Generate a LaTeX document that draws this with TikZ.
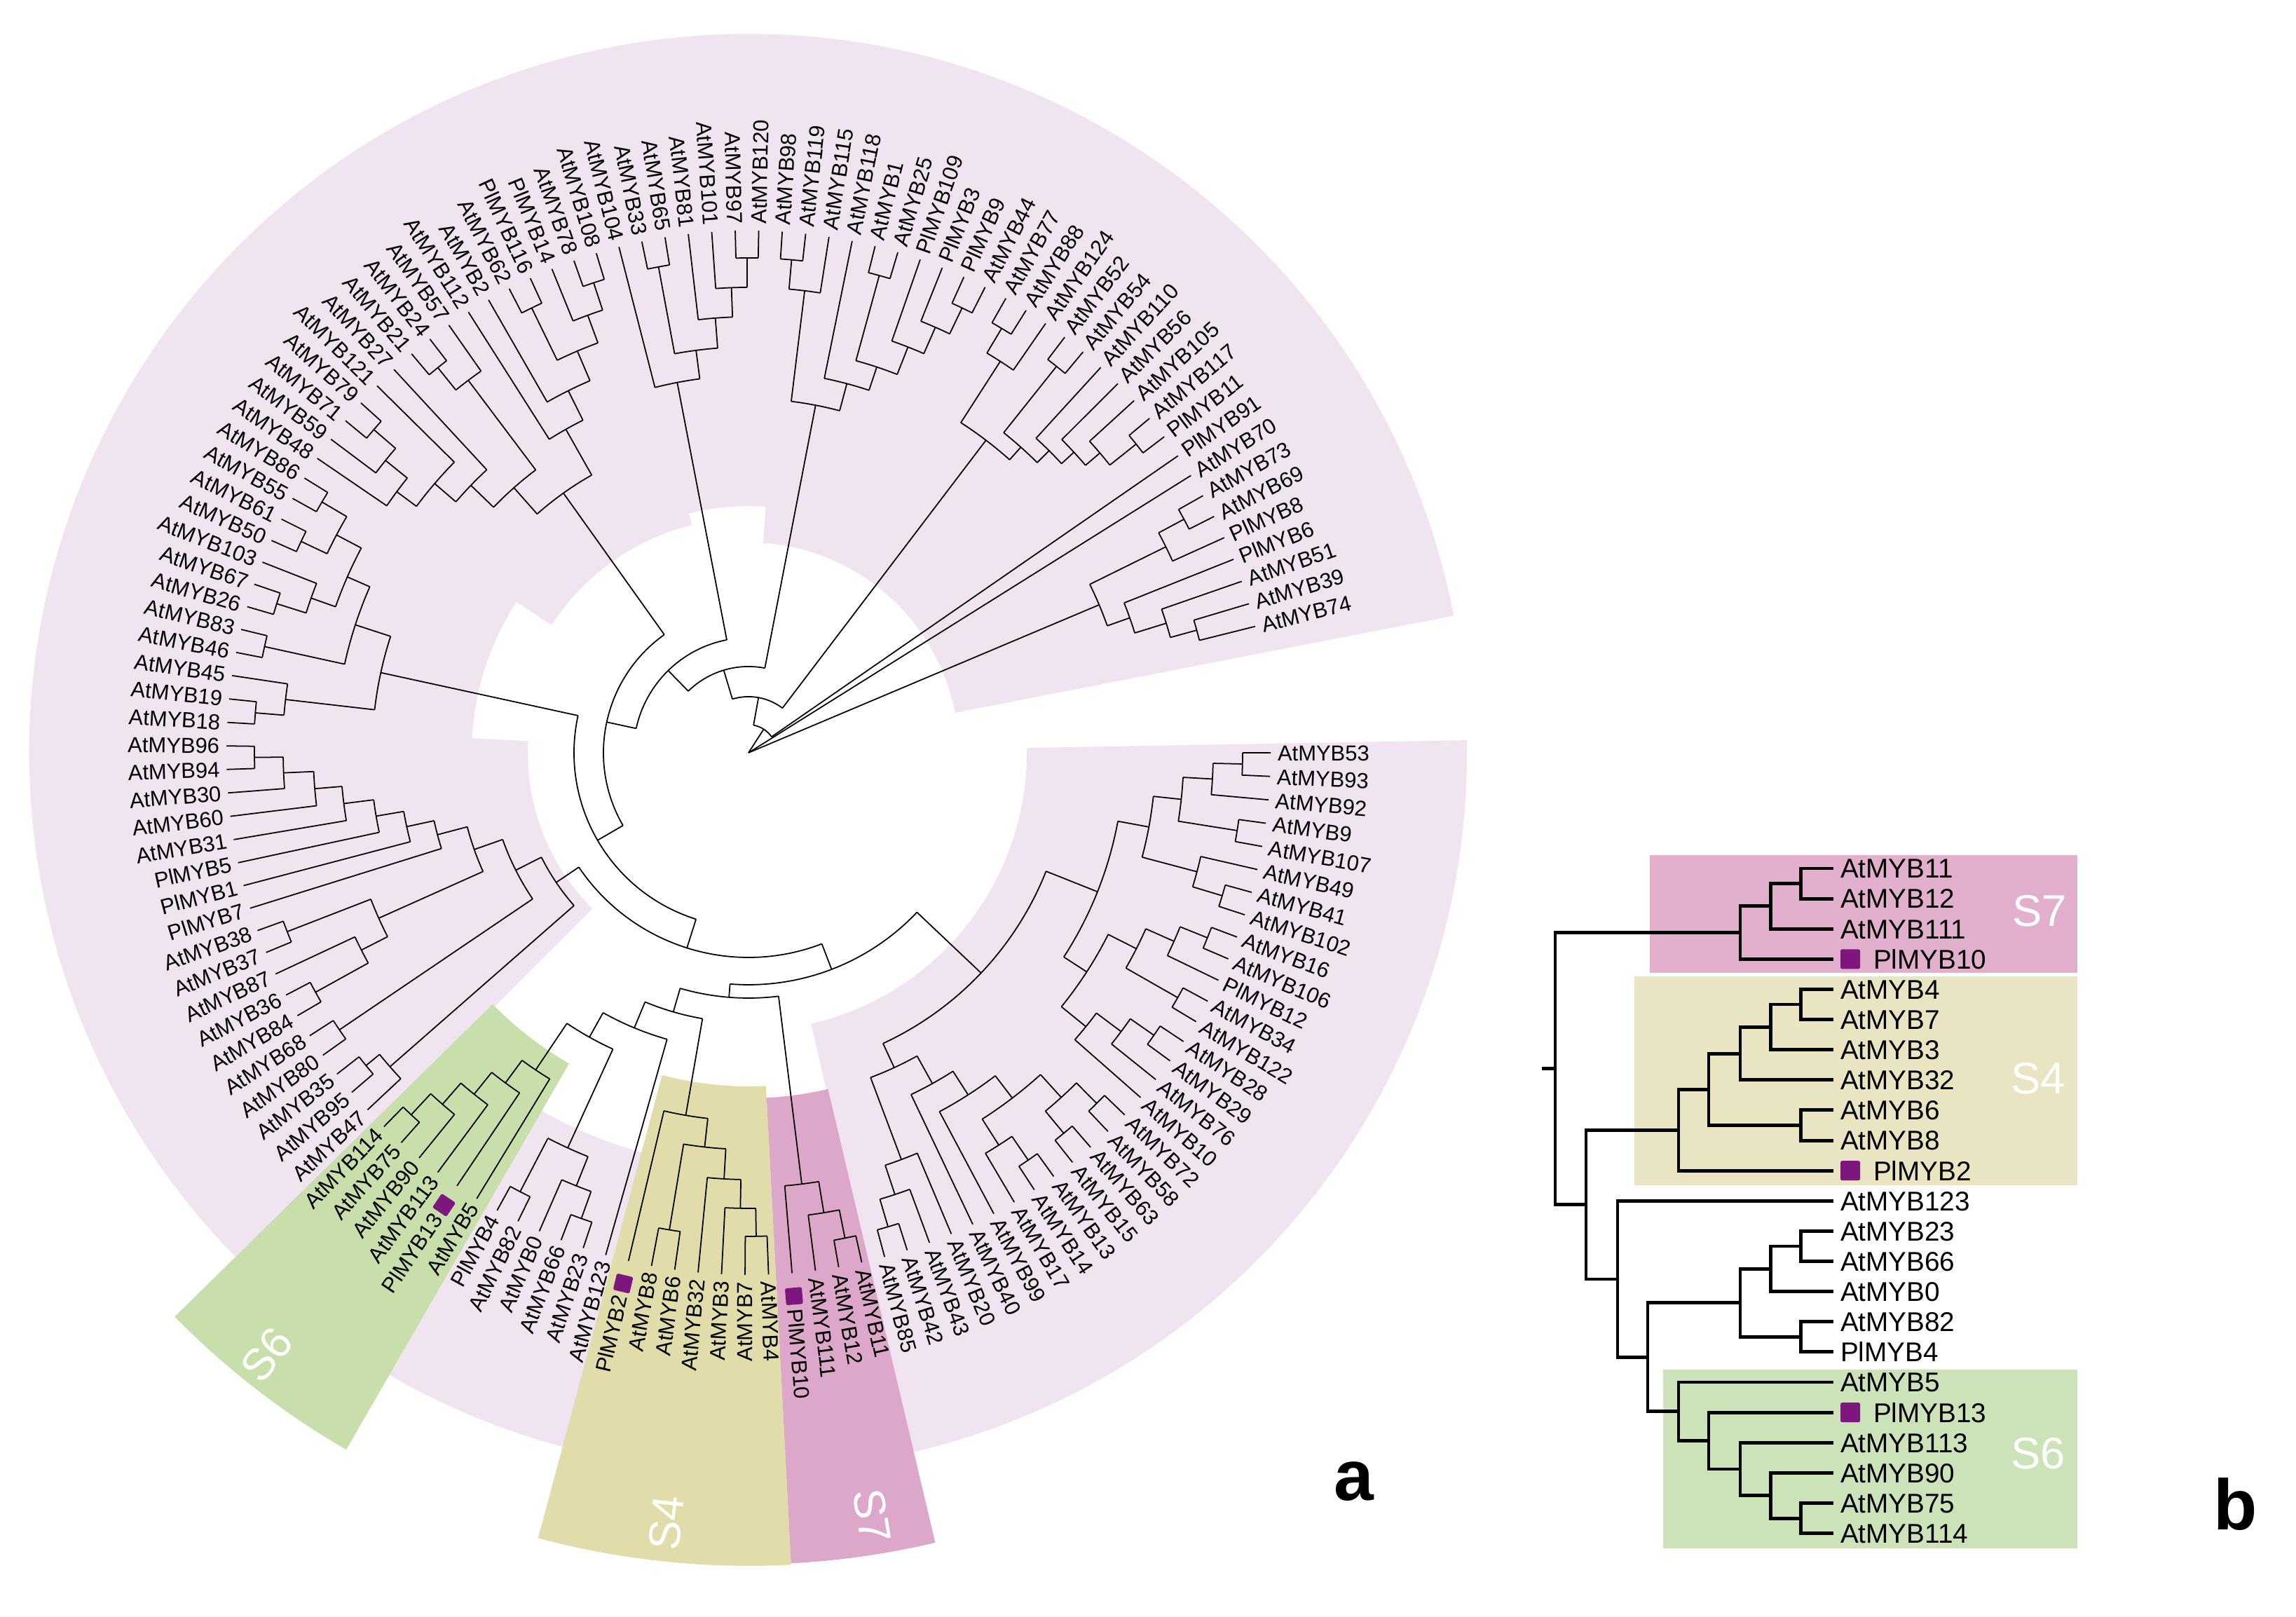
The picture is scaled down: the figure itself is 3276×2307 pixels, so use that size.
\documentclass[tikz,border=0pt]{standalone}
\usepackage{fontspec}
\setmainfont{Liberation Sans}
\definecolor{lav}{RGB}{239,228,239}
\definecolor{sixg}{RGB}{200,223,172}
\definecolor{foury}{RGB}{225,221,170}
\definecolor{sevp}{RGB}{221,167,201}
\definecolor{sqc}{RGB}{125,22,125}
\definecolor{bsix}{RGB}{204,227,186}
\definecolor{bfour}{RGB}{233,229,195}
\definecolor{bseven}{RGB}{226,176,205}

\newcommand\AngStart{14}
\newcommand\AngStep{2.582}
\newcommand\TipR{745}
\newcommand\LabR{755}

% leaf: index, text, marker flag
\newcommand\Leaf[3]{%
  \pgfmathsetmacro\la{\AngStart+(#1-1)*\AngStep}%
  \expandafter\xdef\csname ang@#1\endcsname{\la}%
  \coordinate (nd-#1) at (\la:\TipR);%
  \pgfmathtruncatemacro\flip{(\la>90)*(\la<270)}%
  \ifnum#3=1\relax
    \node[sq, rotate=\la] (mk-#1) at (\la:778) {};%
    \def\lr{796}%
  \else
    \def\lr{\LabR}%
  \fi
  \ifnum\flip=1\relax
    \node[lab, anchor=east, rotate=\la-180] (lab-#1) at (\la:\lr) {#2};%
  \else
    \node[lab, anchor=west, rotate=\la] (lab-#1) at (\la:\lr) {#2};%
  \fi
}

% clade: name, radius, children
\newcommand\Clade[3]{%
  \xdef\cmin{1000}\xdef\cmax{-1000}%
  \foreach \c in {#3}{%
    \edef\ca{\csname ang@\c\endcsname}%
    \draw[tree] (\ca:#2) -- (nd-\c);%
    \pgfmathsetmacro\tmp{min(\cmin,\ca)}\xdef\cmin{\tmp}%
    \pgfmathsetmacro\tmp{max(\cmax,\ca)}\xdef\cmax{\tmp}%
  }%
  \draw[tree] (\cmin:#2) arc[start angle=\cmin, end angle=\cmax, radius=#2*0.01cm];%
  \pgfmathsetmacro\tmp{(\cmin+\cmax)/2}%
  \expandafter\xdef\csname ang@#1\endcsname{\tmp}%
  \coordinate (nd-#1) at (\tmp:#2);%
}

\newcommand\Sector[5]{%
  \fill[#1] (#2:#4) arc[start angle=#2, end angle=#3, radius=#4*0.01cm]
    -- (#3:#5) arc[start angle=#3, end angle=#2, radius=#5*0.01cm] -- cycle;}

% panel b bracket: xparent, rowA, xA, rowB, xB
\newcommand\bel[5]{\draw[btree] ({#3},{1068-43.12*(#2)}) -- ({#1},{1068-43.12*(#2)})
   -- ({#1},{1068-43.12*(#4)}) -- ({#5},{1068-43.12*(#4)});}
% panel b label: row, text, flag
\newcommand\BL[3]{%
  \pgfmathsetmacro\yy{1068-43.12*#1}%
  \ifnum#3=1\relax
    \node[bsq] (bm-#1) at (2640,\yy) {};%
    \node[blab] (bl-#1) at (2673,\yy) {#2};%
  \else
    \node[blab] (bl-#1) at (2626,\yy) {#2};%
  \fi}

\begin{document}
\begin{tikzpicture}[x=0.01cm, y=0.01cm,
  tree/.style={line width=0.5pt, black},
  btree/.style={line width=1.4pt, black},
  lab/.style={font=\fontsize{8.8pt}{10pt}\selectfont, inner sep=0pt, outer sep=0pt, text height=6.3pt, text depth=0pt},
  blab/.style={anchor=west, font=\fontsize{11pt}{13pt}\selectfont, inner sep=0pt, outer sep=0pt, text height=7.9pt, text depth=0pt},
  sq/.style={fill=sqc, minimum size=0.24cm, inner sep=0pt, rounded corners=0.7pt},
  bsq/.style={fill=sqc, minimum size=0.28cm, inner sep=0pt, rounded corners=0.7pt},
  stext/.style={text=white, font=\fontsize{18pt}{20pt}\selectfont, inner sep=0pt}]
\fill[white] (0,0) rectangle (3276,2307);
\useasboundingbox (0,0) rectangle (3276,2307);

\begin{scope}[shift={(1068,1233)}]
% ---------- backgrounds ----------
\fill[lav] (11:1025) arc[start angle=11,end angle=225,radius=10.25cm]
  -- (225:315) arc[start angle=225,end angle=177,radius=3.15cm]
  -- (177:395) arc[start angle=177,end angle=147,radius=3.95cm]
  -- (147:335) arc[start angle=147,end angle=104,radius=3.35cm]
  -- (104:352) arc[start angle=104,end angle=86,radius=3.52cm]
  -- (86:300) arc[start angle=86,end angle=11,radius=3.00cm] -- cycle;
\Sector{lav}{239}{256}{590}{1025}
\Sector{lav}{283}{361}{397}{1025}
\Sector{sixg}{224.5}{240}{512}{1148}
\Sector{foury}{255}{273}{476}{1160}
\Sector{sevp}{273}{283.3}{493}{1158}

% ---------- leaves ----------
\Leaf{1}{AtMYB74}{0}
\Leaf{2}{AtMYB39}{0}
\Leaf{3}{AtMYB51}{0}
\Leaf{4}{PlMYB6}{0}
\Leaf{5}{PlMYB8}{0}
\Leaf{6}{AtMYB69}{0}
\Leaf{7}{AtMYB73}{0}
\Leaf{8}{AtMYB70}{0}
\Leaf{9}{PlMYB91}{0}
\Leaf{10}{PlMYB11}{0}
\Leaf{11}{AtMYB117}{0}
\Leaf{12}{AtMYB105}{0}
\Leaf{13}{AtMYB56}{0}
\Leaf{14}{AtMYB110}{0}
\Leaf{15}{AtMYB54}{0}
\Leaf{16}{AtMYB52}{0}
\Leaf{17}{AtMYB124}{0}
\Leaf{18}{AtMYB88}{0}
\Leaf{19}{AtMYB77}{0}
\Leaf{20}{AtMYB44}{0}
\Leaf{21}{PlMYB9}{0}
\Leaf{22}{PlMYB3}{0}
\Leaf{23}{PlMYB109}{0}
\Leaf{24}{AtMYB25}{0}
\Leaf{25}{AtMYB1}{0}
\Leaf{26}{AtMYB118}{0}
\Leaf{27}{AtMYB115}{0}
\Leaf{28}{AtMYB119}{0}
\Leaf{29}{AtMYB98}{0}
\Leaf{30}{AtMYB120}{0}
\Leaf{31}{AtMYB97}{0}
\Leaf{32}{AtMYB101}{0}
\Leaf{33}{AtMYB81}{0}
\Leaf{34}{AtMYB65}{0}
\Leaf{35}{AtMYB33}{0}
\Leaf{36}{AtMYB104}{0}
\Leaf{37}{AtMYB108}{0}
\Leaf{38}{AtMYB78}{0}
\Leaf{39}{PlMYB14}{0}
\Leaf{40}{PlMYB116}{0}
\Leaf{41}{AtMYB62}{0}
\Leaf{42}{AtMYB2}{0}
\Leaf{43}{AtMYB112}{0}
\Leaf{44}{AtMYB57}{0}
\Leaf{45}{AtMYB24}{0}
\Leaf{46}{AtMYB21}{0}
\Leaf{47}{AtMYB27}{0}
\Leaf{48}{AtMYB121}{0}
\Leaf{49}{AtMYB79}{0}
\Leaf{50}{AtMYB71}{0}
\Leaf{51}{AtMYB59}{0}
\Leaf{52}{AtMYB48}{0}
\Leaf{53}{AtMYB86}{0}
\Leaf{54}{AtMYB55}{0}
\Leaf{55}{AtMYB61}{0}
\Leaf{56}{AtMYB50}{0}
\Leaf{57}{AtMYB103}{0}
\Leaf{58}{AtMYB67}{0}
\Leaf{59}{AtMYB26}{0}
\Leaf{60}{AtMYB83}{0}
\Leaf{61}{AtMYB46}{0}
\Leaf{62}{AtMYB45}{0}
\Leaf{63}{AtMYB19}{0}
\Leaf{64}{AtMYB18}{0}
\Leaf{65}{AtMYB96}{0}
\Leaf{66}{AtMYB94}{0}
\Leaf{67}{AtMYB30}{0}
\Leaf{68}{AtMYB60}{0}
\Leaf{69}{AtMYB31}{0}
\Leaf{70}{PlMYB5}{0}
\Leaf{71}{PlMYB1}{0}
\Leaf{72}{PlMYB7}{0}
\Leaf{73}{AtMYB38}{0}
\Leaf{74}{AtMYB37}{0}
\Leaf{75}{AtMYB87}{0}
\Leaf{76}{AtMYB36}{0}
\Leaf{77}{AtMYB84}{0}
\Leaf{78}{AtMYB68}{0}
\Leaf{79}{AtMYB80}{0}
\Leaf{80}{AtMYB35}{0}
\Leaf{81}{AtMYB95}{0}
\Leaf{82}{AtMYB47}{0}
\Leaf{83}{AtMYB114}{0}
\Leaf{84}{AtMYB75}{0}
\Leaf{85}{AtMYB90}{0}
\Leaf{86}{AtMYB113}{0}
\Leaf{87}{PlMYB13}{1}
\Leaf{88}{AtMYB5}{0}
\Leaf{89}{PlMYB4}{0}
\Leaf{90}{AtMYB82}{0}
\Leaf{91}{AtMYB0}{0}
\Leaf{92}{AtMYB66}{0}
\Leaf{93}{AtMYB23}{0}
\Leaf{94}{AtMYB123}{0}
\Leaf{95}{PlMYB2}{1}
\Leaf{96}{AtMYB8}{0}
\Leaf{97}{AtMYB6}{0}
\Leaf{98}{AtMYB32}{0}
\Leaf{99}{AtMYB3}{0}
\Leaf{100}{AtMYB7}{0}
\Leaf{101}{AtMYB4}{0}
\Leaf{102}{PlMYB10}{1}
\Leaf{103}{AtMYB111}{0}
\Leaf{104}{AtMYB12}{0}
\Leaf{105}{AtMYB11}{0}
\Leaf{106}{AtMYB85}{0}
\Leaf{107}{AtMYB42}{0}
\Leaf{108}{AtMYB43}{0}
\Leaf{109}{AtMYB20}{0}
\Leaf{110}{AtMYB40}{0}
\Leaf{111}{AtMYB99}{0}
\Leaf{112}{AtMYB17}{0}
\Leaf{113}{AtMYB14}{0}
\Leaf{114}{AtMYB13}{0}
\Leaf{115}{AtMYB15}{0}
\Leaf{116}{AtMYB63}{0}
\Leaf{117}{AtMYB58}{0}
\Leaf{118}{AtMYB72}{0}
\Leaf{119}{AtMYB10}{0}
\Leaf{120}{AtMYB76}{0}
\Leaf{121}{AtMYB29}{0}
\Leaf{122}{AtMYB28}{0}
\Leaf{123}{AtMYB122}{0}
\Leaf{124}{AtMYB34}{0}
\Leaf{125}{PlMYB12}{0}
\Leaf{126}{AtMYB106}{0}
\Leaf{127}{AtMYB16}{0}
\Leaf{128}{AtMYB102}{0}
\Leaf{129}{AtMYB41}{0}
\Leaf{130}{AtMYB49}{0}
\Leaf{131}{AtMYB107}{0}
\Leaf{132}{AtMYB9}{0}
\Leaf{133}{AtMYB92}{0}
\Leaf{134}{AtMYB93}{0}
\Leaf{135}{AtMYB53}{0}

% ---------- clades ----------
% region A
\Clade{a1}{663}{1,2}
\Clade{a2}{624}{3,a1}
\Clade{a3}{577}{4,a2}
\Clade{a4}{705}{6,7}
\Clade{a5}{664}{5,a4}
\Clade{cA}{543}{a3,a5}
% region B
\Clade{b1}{707}{10,11}
\Clade{b2}{659}{b1,12}
\Clade{b3}{632}{b2,13}
\Clade{b4}{608}{b3,14}
\Clade{b5}{705}{15,16}
\Clade{b6}{584}{b4,b5}
\Clade{b7}{705}{18,19}
\Clade{b8}{664}{17,b7}
\Clade{cB}{560}{b6,b8}
% region Y
\Clade{y1}{704}{20,21}
\Clade{y2}{663}{y1,22}
\Clade{y3}{622}{y2,23}
\Clade{y4}{706}{24,25}
\Clade{y5}{580}{y3,y4}
\Clade{y6}{545}{y5,26}
\Clade{y7}{706}{28,29}
\Clade{y8}{664}{27,y7}
\Clade{cY}{505}{y6,y8}
% region X
\Clade{x1}{706}{30,31}
\Clade{x2}{664}{x1,32}
\Clade{x3}{622}{x2,33}
\Clade{x4}{705}{34,35}
\Clade{x5}{579}{x3,x4}
\Clade{cX}{538}{x5,36}
% top left
\Clade{t1}{706}{37,38}
\Clade{t2}{665}{t1,39}
\Clade{t3}{706}{40,41}
\Clade{t4}{623}{t2,t3}
\Clade{t5}{577}{t4,42}
\Clade{t6}{530}{t5,43}
\Clade{t7}{706}{45,46}
\Clade{t8}{665}{44,t7}
\Clade{t9}{706}{49,50}
\Clade{t10}{665}{t9,51}
\Clade{t11}{625}{t10,52}
\Clade{t12}{590}{48,t11}
\Clade{t13}{550}{47,t12}
\Clade{t14}{505}{t8,t13}
\Clade{cTL}{455}{t6,t14}
% left 1
\Clade{l1}{706}{53,54}
\Clade{l2}{706}{55,56}
\Clade{l3}{665}{l1,l2}
\Clade{l4}{706}{58,59}
\Clade{l5}{662}{57,l4}
\Clade{l6}{625}{l3,l5}
\Clade{l7}{707}{60,61}
\Clade{l8}{590}{l6,l7}
\Clade{l9}{706}{63,64}
\Clade{l10}{665}{62,l9}
\Clade{cL1}{537}{l8,l10}
% left 2
\Clade{m1}{705}{65,66}
\Clade{m2}{664}{m1,67}
\Clade{m3}{621}{m2,68}
\Clade{m4}{582}{m3,69}
\Clade{m5}{539}{m4,70}
\Clade{m6}{499}{m5,71}
\Clade{m7}{459}{m6,72}
\Clade{m8}{706}{73,74}
\Clade{m9}{706}{76,77}
\Clade{m10}{620}{75,m9}
\Clade{m11}{578}{m8,m10}
\Clade{m12}{415}{m7,m11}
\Clade{m13}{705}{78,79}
\Clade{m14}{372}{m12,m13}
\Clade{m15}{705}{80,81}
\Clade{m16}{680}{m15,82}
\Clade{N7}{331}{m14,m16}
% bottom (S6, S4, S7)
\Clade{s1}{706}{83,84}
\Clade{s2}{665}{s1,85}
\Clade{s3}{625}{s2,86}
\Clade{s4}{585}{s3,87}
\Clade{S6}{545}{s4,88}
\Clade{u1}{706}{89,90}
\Clade{u2}{706}{92,93}
\Clade{u3}{665}{91,u2}
\Clade{X4}{620}{u1,u3}
\Clade{X3}{465}{S6,X4}
\Clade{X2}{425}{X3,94}
\Clade{v1}{690}{96,97}
\Clade{v2}{690}{100,101}
\Clade{v3}{650}{99,v2}
\Clade{v4}{609}{98,v3}
\Clade{v5}{566}{v1,v4}
\Clade{S4}{525}{95,v5}
\Clade{X1}{385}{X2,S4}
\Clade{w1}{706}{104,105}
\Clade{w2}{665}{103,w1}
\Clade{S7}{620}{102,w2}
\Clade{BOT}{350}{X1,S7}
% right
\Clade{r1}{705}{134,135}
\Clade{r2}{663}{133,r1}
\Clade{r3}{706}{131,132}
\Clade{r4}{621}{r3,r2}
\Clade{r5}{706}{128,129}
\Clade{r6}{662}{r5,130}
\Clade{r7}{581}{r6,r4}
\Clade{r8}{706}{126,127}
\Clade{r9}{664}{125,r8}
\Clade{r10}{705}{123,124}
\Clade{r11}{620}{r10,r9}
\Clade{r12}{705}{121,122}
\Clade{r13}{664}{120,r12}
\Clade{r14}{620}{119,r13}
\Clade{r15}{575}{r14,r11}
\Clade{r16}{536}{r15,r7}
\Clade{q1}{705}{117,118}
\Clade{q2}{705}{115,116}
\Clade{q3}{664}{q2,q1}
\Clade{q4}{705}{113,114}
\Clade{q5}{664}{112,q4}
\Clade{q6}{620}{q5,q3}
\Clade{q7}{580}{111,q6}
\Clade{q8}{540}{110,q7}
\Clade{q9}{705}{106,107}
\Clade{q10}{664}{q9,108}
\Clade{q11}{620}{q10,109}
\Clade{q12}{495}{q11,q8}
\Clade{R}{457}{q12,r16}
% backbone
\Clade{N8}{331}{BOT,R}
\Clade{N6}{292}{N7,N8}
\Clade{N5}{249}{cL1,N6}
\Clade{N4}{207}{cTL,N5}
\Clade{N3}{164}{cX,N4}
\Clade{N2}{123}{cY,N3}
\Clade{N1}{80}{cB,N2}
\Clade{N0}{40}{9,N1}
\coordinate (root) at (0,0);
\foreach \c in {cA,8,N0}{\draw[tree] (root) -- (nd-\c);}

% sector labels
\node[stext, rotate=51.3] (t-s6) at (231.3:1100) {S6};
\node[stext, rotate=83.9] (t-s4) at (263.9:1105) {S4};
\node[stext, rotate=-80.8] (t-s7) at (279.2:1103) {S7};
\end{scope}

% ---------- panel b ----------
\fill[bseven] (2354,919) rectangle (2964,1087);
\fill[bfour] (2332,615.5) rectangle (2964,914);
\fill[bsix] (2373,97.6) rectangle (2964,353);
\node[stext] (b-s7) at (2910,1007.5) {S7};
\node[stext] (b-s4) at (2908,768.4) {S4};
\node[stext] (b-s6) at (2908,233.6) {S6};

\draw[btree] (2200,{1068-43.12*6.62}) -- (2219,{1068-43.12*6.62});
\bel{2219}{2.125}{2483}{11.12}{2263}
\bel{2483}{1.25}{2526}{3}{2616}
\bel{2526}{0.5}{2569}{2}{2616}
\bel{2569}{0}{2616}{1}{2616}
\bel{2263}{8.656}{2395}{13.59}{2308}
\bel{2395}{7.3125}{2438}{10}{2616}
\bel{2438}{6.125}{2483}{8.5}{2569}
\bel{2483}{5.25}{2526}{7}{2616}
\bel{2526}{4.5}{2569}{6}{2616}
\bel{2569}{4}{2616}{5}{2616}
\bel{2569}{8}{2616}{9}{2616}
\bel{2308}{11}{2616}{16.17}{2351}
\bel{2351}{14.375}{2483}{17.97}{2395}
\bel{2483}{13.25}{2526}{15.5}{2569}
\bel{2526}{12.5}{2569}{14}{2616}
\bel{2569}{12}{2616}{13}{2616}
\bel{2569}{15}{2616}{16}{2616}
\bel{2395}{17}{2616}{18.9375}{2438}
\bel{2438}{18}{2616}{19.875}{2483}
\bel{2483}{19}{2616}{20.75}{2526}
\bel{2526}{20}{2616}{21.5}{2569}
\bel{2569}{21}{2616}{22}{2616}

\BL{0}{AtMYB11}{0}
\BL{1}{AtMYB12}{0}
\BL{2}{AtMYB111}{0}
\BL{3}{PlMYB10}{1}
\BL{4}{AtMYB4}{0}
\BL{5}{AtMYB7}{0}
\BL{6}{AtMYB3}{0}
\BL{7}{AtMYB32}{0}
\BL{8}{AtMYB6}{0}
\BL{9}{AtMYB8}{0}
\BL{10}{PlMYB2}{1}
\BL{11}{AtMYB123}{0}
\BL{12}{AtMYB23}{0}
\BL{13}{AtMYB66}{0}
\BL{14}{AtMYB0}{0}
\BL{15}{AtMYB82}{0}
\BL{16}{PlMYB4}{0}
\BL{17}{AtMYB5}{0}
\BL{18}{PlMYB13}{1}
\BL{19}{AtMYB113}{0}
\BL{20}{AtMYB90}{0}
\BL{21}{AtMYB75}{0}
\BL{22}{AtMYB114}{0}

\node[font=\fontsize{29pt}{32pt}\selectfont\bfseries, inner sep=0pt] (pa) at (1932,193) {a};
\node[font=\fontsize{29pt}{32pt}\selectfont\bfseries, inner sep=0pt] (pb) at (3190,161) {b};
\end{tikzpicture}
\end{document}
